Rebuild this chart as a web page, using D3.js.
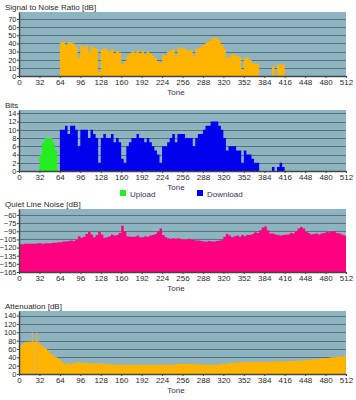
<!DOCTYPE html>
<html><head><meta charset="utf-8">
<script src="https://cdn.jsdelivr.net/npm/d3@7"></script>
<style>body{margin:0;background:#fff}svg{display:block}text{font-family:"Liberation Sans",Arial,sans-serif}</style>
</head><body>
<svg id="c" width="356" height="400"></svg>
<script>
// Tone bins (start tone of each 4-tone bin)
const binSize = 4;
const toneTicks = [0,32,64,96,128,160,192,224,256,288,320,352,384,416,448,480,512];

const snrTicks = [0,10,20,30,40,50,60,70];
const snrValues = [
 0,0,0,0,0,0,0,0,
 0,0,0,0,0,0,0,0,
 41,42,38,42,41,40,36,22,
 37,36,37,30,36,35,33,5,
 32,34,33,30,33,28,31,29,
 14,18,25,28,30,29,31,28,
 31,26,30,28,25,22,18,16,
 26,25,30,32,33,25,34,35,
 34,32,31,32,24,33,35,36,
 39,41,43,46,47,46,44,39,
 33,22,24,27,26,25,23,8,
 22,23,20,16,15,15,0,0,
 0,0,0,12,0,14,14,14,
 0,0,0,0,0,0,0,0,
 0,0,0,0,0,0,0,0,
 0,0,0,0,0,0,0,0];

const bitsTicks = [0,2,4,6,8,10,12,14];
const uploadBits = [
 0,0,0,0,0,0,0,0,
 4,7,8,8,8,7,5,0,
 0,0,0,0,0,0,0,0,0,0,0,0,0,0,0,0,
 0,0,0,0,0,0,0,0,0,0,0,0,0,0,0,0,
 0,0,0,0,0,0,0,0,0,0,0,0,0,0,0,0,
 0,0,0,0,0,0,0,0,0,0,0,0,0,0,0,0,
 0,0,0,0,0,0,0,0,0,0,0,0,0,0,0,0,
 0,0,0,0,0,0,0,0,0,0,0,0,0,0,0,0,
 0,0,0,0,0,0,0,0,0,0,0,0,0,0,0,0];
const downloadBits = [
 0,0,0,0,0,0,0,0,
 0,0,0,0,0,0,0,0,
 10,10,11,9,11,11,10,6,
 10,10,10,8,10,9,8,2,
 8,9,8,8,9,7,8,7,
 3,2,6,7,8,8,9,8,
 8,7,8,7,6,5,4,2,
 6,6,7,8,9,7,9,9,
 9,8,8,8,6,8,9,9,
 10,11,11,12,12,12,11,10,
 8,5,6,6,6,5,5,2,
 5,4,4,3,2,2,0,0,
 0,0,0,1,0,1,2,1,
 0,0,0,0,0,0,0,0,
 0,0,0,0,0,0,0,0,
 0,0,0,0,0,0,0,0];
const bitsLegend = ["Upload","Download"];

const noiseTicks = [-60,-75,-90,-105,-120,-135,-150,-165];
const noiseValues = [
 -114,-114,-113,-113,-113,-113,-113,-112,
 -112,-113,-112,-112,-112,-111,-111,-110,
 -110,-109,-109,-108,-107,-108,-106,-99,
 -102,-100,-95,-91,-96,-101,-97,-91,
 -96,-102,-101,-99,-96,-98,-97,-93,
 -80,-90,-99,-100,-100,-100,-98,-101,
 -101,-99,-100,-98,-97,-95,-90,-85,
 -97,-101,-103,-104,-103,-104,-103,-104,
 -106,-106,-104,-105,-106,-107,-107,-108,
 -109,-109,-108,-109,-109,-108,-107,-106,
 -100,-95,-98,-101,-99,-98,-100,-97,
 -99,-97,-97,-95,-92,-93,-88,-83,
 -81,-88,-94,-94,-96,-97,-98,-97,
 -96,-96,-93,-94,-90,-85,-82,-85,
 -91,-93,-96,-95,-94,-96,-94,-93,
 -91,-92,-91,-90,-93,-94,-96,-98];

const attTicks = [0,20,40,60,80,100,120,140];
const attValues = [
 68,70,76,77,77,78,78,78,
 70,66,61,56,50,45,40,36,
 32,27,24,24,25,26,27,28,
 27,27,26,26,26,25,25,25,
 24,24,24,23,23,23,22,22,
 22,22,22,22,22,22,22,22,
 22,22,22,22,22,22,22,22,
 22,22,23,23,23,23,24,24,
 24,24,24,24,24,23,23,23,
 23,23,22,22,22,22,23,24,
 24,25,26,27,27,28,28,28,
 28,28,28,29,29,29,29,29,
 29,29,30,30,30,30,30,30,
 30,31,31,31,32,32,32,33,
 33,34,34,35,35,36,37,38,
 38,39,40,40,41,42,42,43];
const attSpikeTones = [0,20,27];
const attSpikeValues = [100,100,100];

const svg = d3.select("#c");
const x = d3.scaleLinear().domain([0,512]).range([19,346]);
const BG = "#8fb4c1", GRID = "#5e6f77", AX = "#444", TXT = "#2a2a2a", TONE = "#3b2c55";
const FONT = '"Liberation Sans",Arial,sans-serif';

function panel(cfg){
  const y = d3.scaleLinear().domain(cfg.domain).range([cfg.bottom, cfg.top]);
  const g = svg.append("g");
  g.append("rect").attr("x",x(0)).attr("y",cfg.top).attr("width",x(512)-x(0)).attr("height",cfg.bottom-cfg.top)
    .attr("fill",BG);
  // grid
  g.selectAll(".gl").data(cfg.ticks.filter(t=>t!==cfg.domain[0])).join("line")
    .attr("x1",x(0)).attr("x2",x(512)).attr("y1",d=>Math.round(y(d))+0.5).attr("y2",d=>Math.round(y(d))+0.5)
    .attr("stroke",GRID).attr("stroke-width",1.2);
  // series
  cfg.series.forEach(s=>{
    const pts = s.values.map((v,i)=>[i*binSize, v]);
    pts.push([512, s.values[s.values.length-1]]);
    const area = d3.area().curve(d3.curveStepAfter)
      .x(d=>x(d[0])).y0(cfg.bottom).y1(d=>y(d[1]===0&&!s.keepZero?cfg.domain[0]:d[1]));
    g.append("path").attr("d",area(pts)).attr("fill",s.color);
  });
  if(cfg.spikes){
    g.selectAll(".sp").data(cfg.spikes.tones).join("line")
      .attr("x1",d=>x(d)+0.5).attr("x2",d=>x(d)+0.5).attr("y1",cfg.bottom)
      .attr("y2",(d,i)=>y(cfg.spikes.values[i])).attr("stroke",cfg.spikes.color).attr("stroke-width",1);
  }
  // axes
  const ya = d3.axisLeft(y).tickValues(cfg.ticks).tickSize(2).tickPadding(0.5).tickSizeOuter(0);
  const ay = g.append("g").attr("transform",`translate(${x(0)},0)`).call(ya);
  const xa = d3.axisBottom(x).tickValues(toneTicks).tickSize(2).tickPadding(1).tickSizeOuter(0);
  const ax = g.append("g").attr("transform",`translate(0,${cfg.bottom})`).call(xa);
  [ay,ax].forEach(a=>{
    a.select(".domain").attr("stroke",AX).attr("stroke-width",1.5);
    a.selectAll(".tick line").attr("stroke",AX);
    a.selectAll("text").attr("fill",TXT).style("font-family",FONT);
  });
  ay.selectAll("text").style("font-size","7.5px");
  ax.selectAll("text").style("font-size","8px");
  g.append("text").attr("x",5).attr("y",cfg.top-2).text(cfg.title).attr("fill",TXT).style("font-size","8px");
  g.append("text").attr("x",176).attr("y",cfg.bottom+18.5).attr("text-anchor","middle").text("Tone")
    .attr("fill",TONE).style("font-size","8px");
  return {g,y};
}

panel({title:"Signal to Noise Ratio [dB]", top:12, bottom:76, domain:[0,78.6], ticks:snrTicks,
  series:[{values:snrValues,color:"#ffb400"}]});
const p2 = panel({title:"Bits", top:110, bottom:171, domain:[0,14.8], ticks:bitsTicks,
  series:[{values:uploadBits,color:"#22ee22"},{values:downloadBits,color:"#0000ee"}]});
panel({title:"Quiet Line Noise [dB]", top:209, bottom:272, domain:[-165,-49], ticks:noiseTicks,
  series:[{values:noiseValues,color:"#ff0080",keepZero:true}]});
panel({title:"Attenuation [dB]", top:311, bottom:374, domain:[0,151], ticks:attTicks,
  series:[{values:attValues,color:"#ffb400",keepZero:true}],
  spikes:{tones:attSpikeTones, values:attSpikeValues, color:"#e8b040"}});

// legend for bits
const legColors = ["#22ee22","#0000ee"];
const legX = [120,197];
const lg = p2.g.selectAll(".lg").data(bitsLegend).join("g").attr("transform",(d,i)=>`translate(${legX[i]},190)`);
lg.append("rect").attr("width",6).attr("height",6).attr("fill",(d,i)=>legColors[i]);
lg.append("text").attr("x",10).attr("y",6.5).text(d=>d).attr("fill",TONE).style("font-size","8px");
</script>
</body></html>
